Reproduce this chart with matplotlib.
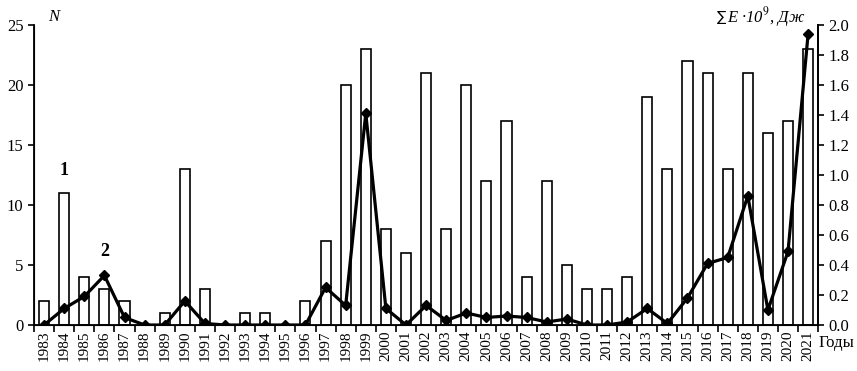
import matplotlib.pyplot as plt
import numpy as np

years = list(range(1983, 2022))
n_events = [2, 11, 4, 3, 2, 0, 1, 13, 3, 0, 1, 1, 0, 2, 7, 20, 23, 8, 6, 21,
            8, 20, 12, 17, 4, 12, 5, 3, 3, 4, 19, 13, 22, 21, 13, 21, 16, 17, 23]
energy = [0.0, 0.11, 0.19, 0.33, 0.05, 0.0, 0.0, 0.16, 0.01, 0.0, 0.0, 0.0, 0.0, 0.0,
          0.25, 0.13, 1.41, 0.11, 0.0, 0.13, 0.03, 0.08, 0.05, 0.06, 0.05, 0.02,
          0.04, 0.0, 0.0, 0.02, 0.11, 0.01, 0.18, 0.41, 0.45, 0.86, 0.1, 0.49, 1.94]

plt.rcParams['font.family'] = ['Liberation Serif', 'DejaVu Serif']
plt.rcParams['mathtext.fontset'] = 'stix'

fig = plt.figure(figsize=(8.57, 3.71), dpi=100)
ax = fig.add_axes([0.0397, 0.124, 0.915, 0.809])
x = np.arange(len(years))

# столбики - число событий
ax.bar(x, n_events, width=0.5, color='white', edgecolor='black', linewidth=1.2, zorder=2)
ax.set_xlim(-0.5, len(years) - 0.5)
ax.set_ylim(0, 25)
ax.set_yticks([0, 5, 10, 15, 20, 25])
ax.tick_params(axis='y', direction='out', length=4, labelsize=12, width=1.2)
ax.set_xticks(x)
ax.set_xticklabels([str(y) for y in years], rotation=90, fontsize=11)
ax.set_xticks(np.arange(-0.5, len(years)), minor=True)
ax.tick_params(axis='x', which='major', length=0, pad=4)
ax.tick_params(axis='x', which='minor', length=5, width=1.2, direction='out')
ax.spines['top'].set_visible(False)
for s in ['left', 'bottom', 'right']:
    ax.spines[s].set_linewidth(1.3)

# линия - суммарная энергия
ax2 = ax.twinx()
ax2.plot(x, energy, color='black', linewidth=2.3, marker='D', markersize=5, zorder=3)
ax2.set_ylim(0, 2.0)
ax2.set_yticks(np.arange(0, 2.01, 0.2))
ax2.set_yticklabels([f'{v:.1f}' for v in np.arange(0, 2.01, 0.2)])
ax2.tick_params(axis='y', direction='out', length=4, labelsize=12, width=1.2)
ax2.spines['top'].set_visible(False)
ax2.spines['right'].set_linewidth(1.3)

ax.text(x[1], n_events[1] + 1.2, '1', ha='center', va='bottom', fontsize=13, fontweight='bold')
ax2.text(x[3], energy[3] + 0.1, '2', ha='center', va='bottom', fontsize=13, fontweight='bold')

fig.text(0.056, 0.955, 'N', fontsize=12, style='italic', ha='left', va='center')
t = fig.text(0.94, 0.955, 'E ·10$^9$, Дж', fontsize=12, style='italic', ha='right', va='center')
fig.canvas.draw()
bb = t.get_window_extent()
fig.text((bb.x0 - 1) / fig.bbox.width, 0.955, '∑', fontsize=10, ha='right', va='center',
         family='DejaVu Sans')
fig.text(0.955, 0.075, 'Годы', fontsize=12, ha='left', va='center')

fig.savefig('out.png', dpi=100)
